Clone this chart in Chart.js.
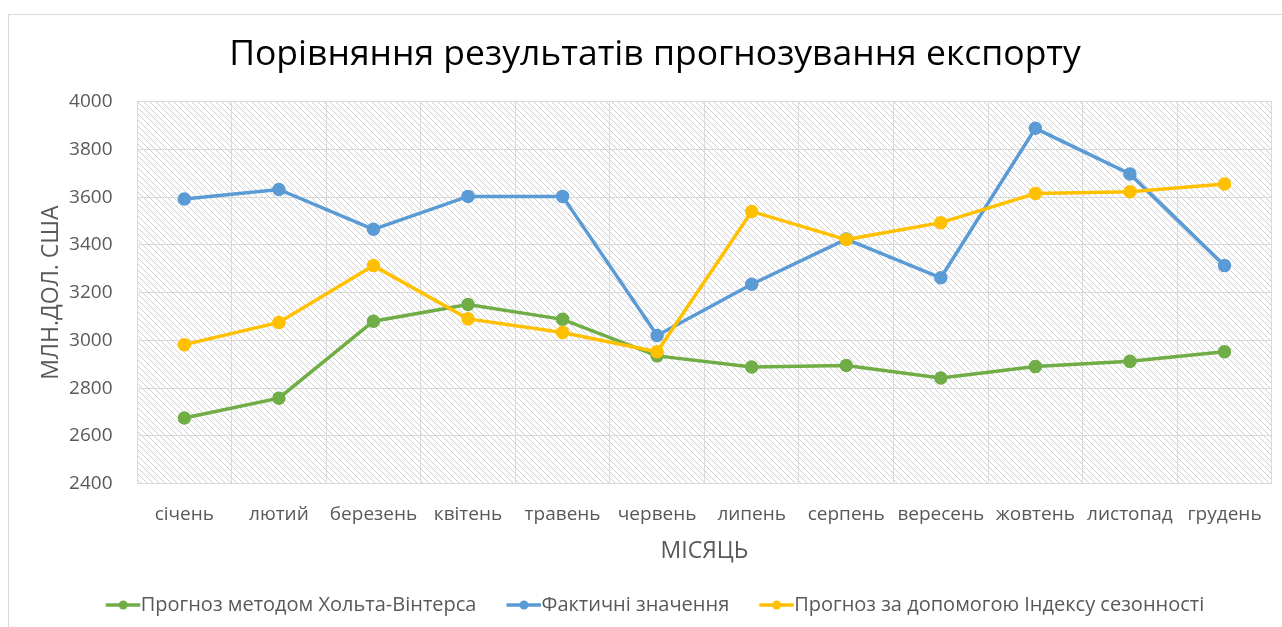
<!DOCTYPE html>
<html lang="uk">
  <head>
    <meta charset="utf-8" />
    <title>Порівняння результатів прогнозування експорту</title>
    <style>
      html, body { margin: 0; padding: 0; background: #fff; }
      #wrap { width: 1282px; height: 627px; position: relative; }
    </style>
  </head>
  <body>
    <div id="wrap">
      <canvas id="canvas"></canvas>
    </div>

    <script src="https://cdn.jsdelivr.net/npm/chart.js"></script>

    <script>
      const months = ["січень", "лютий", "березень", "квітень", "травень", "червень",
        "липень", "серпень", "вересень", "жовтень", "листопад", "грудень"];
      const holtWinters = [2675, 2758, 3080, 3150, 3088, 2935, 2888, 2895, 2842, 2890, 2912, 2952];
      const actual = [3592, 3632, 3465, 3603, 3603, 3020, 3235, 3424, 3262, 3888, 3697, 3313];
      const seasonal = [2982, 3075, 3313, 3090, 3033, 2952, 3540, 3422, 3493, 3615, 3622, 3655];
      const yTicks = [2400, 2600, 2800, 3000, 3200, 3400, 3600, 3800, 4000];

      const green = "#70ad47", blue = "#5b9bd5", yellow = "#ffc000";
      const font = "'Open Sans', 'Noto Sans', sans-serif";

      // line-with-dot legend marker; canvas is wide so the line starts where the item starts
      function legendIcon(color) {
        const c = document.createElement("canvas");
        c.width = 60; c.height = 12;
        const g = c.getContext("2d");
        g.strokeStyle = color; g.lineWidth = 3.5;
        g.beginPath(); g.moveTo(17.5, 6); g.lineTo(52, 6); g.stroke();
        g.fillStyle = color;
        g.beginPath(); g.arc(35, 6, 4.5, 0, Math.PI * 2); g.fill();
        return c;
      }

      function hatch() {
        const c = document.createElement("canvas");
        c.width = 6; c.height = 6;
        const g = c.getContext("2d");
        g.strokeStyle = "#cfcfcf"; g.lineWidth = 1;
        g.beginPath();
        g.moveTo(-1, -1); g.lineTo(7, 7);
        g.moveTo(-1, 5); g.lineTo(1, 7);
        g.moveTo(5, -1); g.lineTo(7, 1);
        g.stroke();
        return c;
      }

      const background = {
        id: "background",
        beforeDraw(chart) {
          const { ctx, chartArea: a } = chart;
          ctx.save();
          ctx.fillStyle = "#fff";
          ctx.fillRect(0, 0, chart.width, chart.height);
          ctx.strokeStyle = "#d9d9d9"; ctx.lineWidth = 1;
          ctx.strokeRect(8.5, 14.5, chart.width, chart.height);
          ctx.fillStyle = ctx.createPattern(hatch(), "repeat");
          ctx.fillRect(a.left, a.top, a.right - a.left, a.bottom - a.top);
          ctx.restore();
        }
      };

      function makeSet(label, data, color, order) {
        return {
          label, data, order,
          borderColor: color, backgroundColor: color,
          borderWidth: 3.5, pointRadius: 5, pointHoverRadius: 6,
          pointStyle: "circle",
          pointBackgroundColor: color, pointBorderColor: color,
          tension: 0
        };
      }

      new Chart(document.getElementById("canvas"), {
        type: "line",
        data: {
          labels: months,
          datasets: [
            makeSet("Прогноз методом Хольта-Вінтерса", holtWinters, green, 2),
            makeSet("Фактичні значення", actual, blue, 1),
            makeSet("Прогноз за допомогою Індексу сезонності", seasonal, yellow, 0)
          ]
        },
        plugins: [background],
        options: {
          responsive: true,
          maintainAspectRatio: false,
          animation: false,
          layout: { padding: { left: 38, right: 10, top: 34, bottom: 2 } },
          plugins: {
            title: {
              display: true,
              text: "Порівняння результатів прогнозування експорту",
              color: "#000",
              font: { family: font, size: 35.5, weight: "normal" },
              padding: { top: 0, bottom: 25 }
            },
            legend: {
              position: "bottom",
              labels: {
                usePointStyle: true,
                pointStyleWidth: 25,
                generateLabels(chart) {
                  return chart.data.datasets.map((d, i) => ({
                    text: d.label,
                    pointStyle: legendIcon(d.borderColor),
                    fontColor: "#595959",
                    strokeStyle: d.borderColor,
                    fillStyle: d.borderColor,
                    lineWidth: 0,
                    hidden: false,
                    datasetIndex: i
                  }));
                },
                color: "#595959",
                font: { family: font, size: 20 },
                padding: 30
              }
            },
            tooltip: { enabled: false }
          },
          scales: {
            x: {
              offset: true,
              grid: { offset: true, color: "#d9d9d9", drawTicks: false },
              border: { color: "#d9d9d9" },
              ticks: { color: "#595959", font: { family: font, size: 19 }, padding: 20, maxRotation: 0, autoSkip: false },
              title: { display: true, text: "МІСЯЦЬ", color: "#595959", font: { family: font, size: 23 }, padding: { top: -9, bottom: 0 } }
            },
            y: {
              min: 2400, max: 4000,
              afterBuildTicks(scale) { scale.ticks = yTicks.map(v => ({ value: v })); },
              grid: { color: "#d9d9d9", drawTicks: false },
              border: { display: false },
              ticks: { color: "#595959", font: { family: font, size: 19 }, padding: 24.5, callback: v => String(v) },
              title: { display: true, text: "МЛН.ДОЛ. США", color: "#595959", font: { family: font, size: 23 }, padding: { top: 0, bottom: -21 } }
            }
          }
        }
      });
    </script>
  </body>
</html>
